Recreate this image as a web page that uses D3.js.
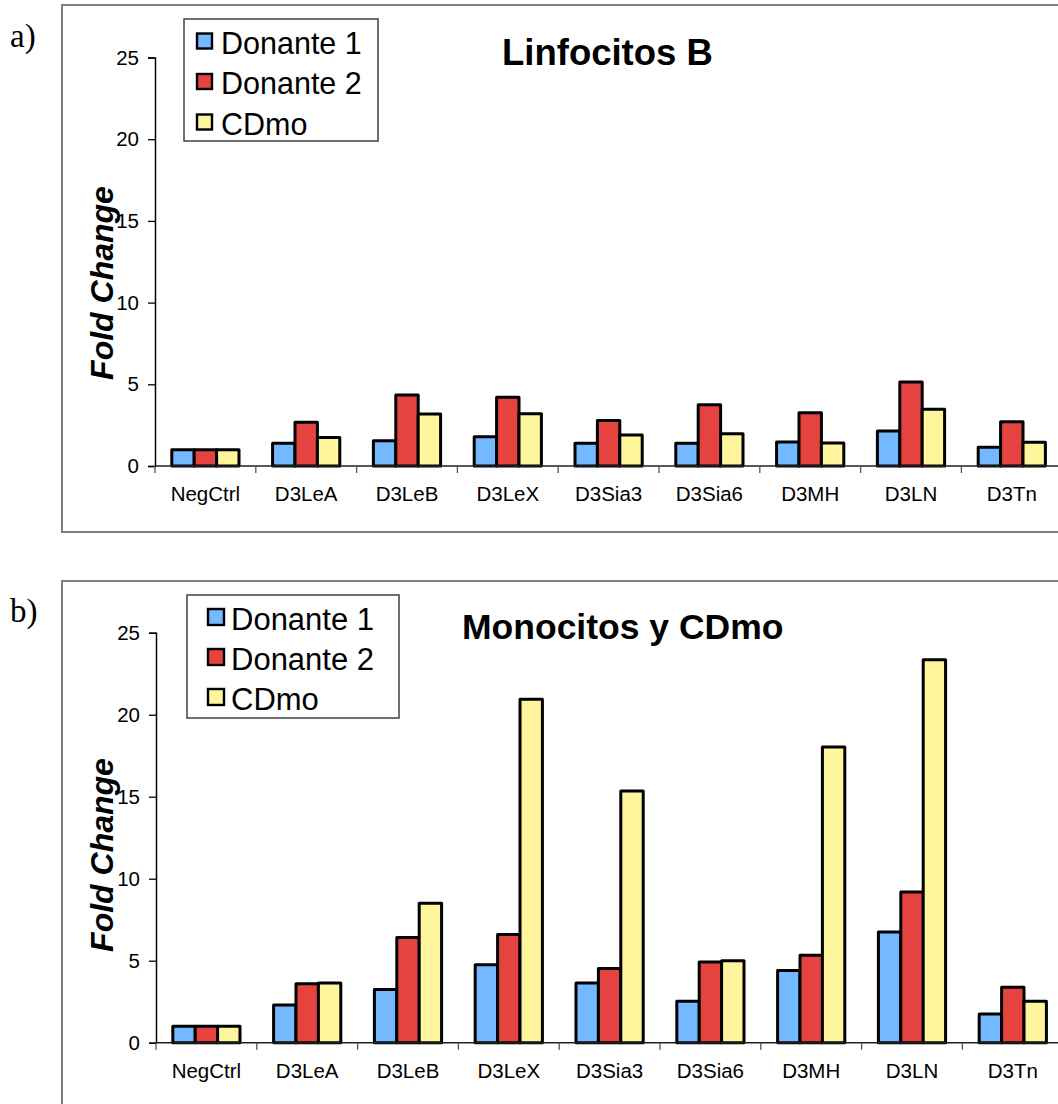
<!DOCTYPE html>
<html><head><meta charset="utf-8">
<script src="https://cdn.jsdelivr.net/npm/d3@7"></script>
<style>
html,body{margin:0;padding:0;background:#fff;overflow:hidden;}
svg{display:block;}
</style></head>
<body>
<svg id="chart" width="1058" height="1104"></svg>
<script>
// ---- data ----
const categories = ["NegCtrl","D3LeA","D3LeB","D3LeX","D3Sia3","D3Sia6","D3MH","D3LN","D3Tn"];
const seriesNames = ["Donante 1","Donante 2","CDmo"];
const seriesColors = ["#74B8FF","#E5433F","#FFF59D"];
const yTicks = [0,5,10,15,20,25];

// Panel a) Linfocitos B
const linfB_donante1 = [1.0, 1.39, 1.55, 1.79, 1.39, 1.39, 1.47, 2.14, 1.14];
const linfB_donante2 = [1.0, 2.67, 4.34, 4.20, 2.79, 3.75, 3.26, 5.14, 2.71];
const linfB_cdmo     = [1.0, 1.75, 3.18, 3.20, 1.90, 1.98, 1.41, 3.47, 1.45];

// Panel b) Monocitos y CDmo
const mono_donante1 = [1.0, 2.30, 3.25, 4.76, 3.64, 2.52, 4.41, 6.75, 1.75];
const mono_donante2 = [1.0, 3.60, 6.42, 6.60, 4.53, 4.92, 5.33, 9.19, 3.38];
const mono_cdmo     = [1.0, 3.64, 8.50, 20.94, 15.35, 5.00, 18.03, 23.35, 2.52];

const svg = d3.select("#chart");
const FONT = "'Liberation Sans', Arial, sans-serif";

function panel(cfg) {
  const g = svg.append("g");
  // outer frame
  g.append("rect").attr("x", cfg.frame[0]).attr("y", cfg.frame[1])
    .attr("width", cfg.frame[2]).attr("height", cfg.frame[3])
    .attr("fill", "#fff").attr("stroke", "#7f7f7f").attr("stroke-width", 2);

  // panel letter
  g.append("text").attr("x", 10).attr("y", cfg.letterY)
    .attr("font-family", "'Liberation Serif','DejaVu Serif',serif").attr("font-size", 33)
    .text(cfg.letter);

  const step = 100.8;
  const x0 = d3.scaleBand().domain(categories)
    .range([cfg.left, cfg.left + step * categories.length]).padding(0);
  const x1 = d3.scaleBand().domain(seriesNames)
    .range([0, x0.bandwidth()]).paddingInner(0).paddingOuter(0.75);
  const y = d3.scaleLinear().domain([0, 25]).range([cfg.y0, cfg.y25]);

  const data = [cfg.s1, cfg.s2, cfg.s3];

  // bars
  categories.forEach((c, i) => {
    seriesNames.forEach((s, j) => {
      const v = data[j][i];
      g.append("rect")
        .attr("x", x0(c) + x1(s))
        .attr("y", y(v))
        .attr("width", x1.bandwidth())
        .attr("height", y(0) - y(v))
        .attr("fill", seriesColors[j])
        .attr("stroke", "#000").attr("stroke-width", 3)
        .attr("stroke-linejoin", "round");
    });
  });

  // y axis
  const yAxis = d3.axisLeft(y).tickValues(yTicks).tickSize(7).tickPadding(9);
  const ya = g.append("g").attr("transform", `translate(${cfg.left},0)`).call(yAxis);
  ya.select(".domain").attr("stroke", "#000").attr("stroke-width", 1.5);
  ya.selectAll(".tick line").attr("stroke", "#000").attr("stroke-width", 1.3);
  ya.selectAll(".tick text").attr("font-family", FONT).attr("font-size", 20.5).attr("fill", "#000");

  // x axis (boundaries ticks)
  const xa = g.append("g").attr("transform", `translate(0,${cfg.y0})`);
  xa.append("line").attr("x1", cfg.left).attr("x2", 1100)
    .attr("stroke", "#202020").attr("stroke-width", 1.6);
  const bounds = categories.map(c => x0(c)).concat([x0.range()[1]]);
  xa.selectAll("line.bt").data(bounds).enter().append("line").attr("class", "bt")
    .attr("x1", d => d).attr("x2", d => d).attr("y1", 0).attr("y2", 7)
    .attr("stroke", "#555").attr("stroke-width", 1.3);
  xa.selectAll("text.cl").data(categories).enter().append("text").attr("class", "cl")
    .attr("x", d => x0(d) + x0.bandwidth() / 2).attr("y", 35)
    .attr("text-anchor", "middle").attr("font-family", FONT).attr("font-size", 20.5)
    .attr("fill", "#000").text(d => d);

  // y label
  g.append("text")
    .attr("transform", `translate(${cfg.labX},${cfg.labY}) rotate(-90)`)
    .attr("text-anchor", "middle").attr("font-family", FONT)
    .attr("font-size", 32).attr("font-weight", "bold").attr("font-style", "italic")
    .text("Fold Change");

  // title
  g.append("text").attr("x", cfg.titleX).attr("y", cfg.titleY)
    .attr("font-family", FONT).attr("font-size", cfg.titleSize).attr("font-weight", "bold")
    .text(cfg.title);

  // legend
  const L = cfg.legend;
  const lg = g.append("g");
  lg.append("rect").attr("x", L.x).attr("y", L.y).attr("width", L.w).attr("height", L.h)
    .attr("fill", "#fff").attr("stroke", "#404040").attr("stroke-width", 1.5);
  seriesNames.forEach((s, j) => {
    const by = L.base0 + j * L.gap;
    lg.append("rect").attr("x", L.sx).attr("y", by - L.sw - 5).attr("width", L.sw).attr("height", L.sw)
      .attr("fill", seriesColors[j]).attr("stroke", "#000").attr("stroke-width", 2.4);
    lg.append("text").attr("x", L.tx).attr("y", by)
      .attr("font-family", FONT).attr("font-size", L.fs).attr("fill", "#000").text(s);
  });
}

panel({
  frame: [62, 5, 1100, 527], letter: "a)", letterY: 47,
  left: 155, y0: 466, y25: 57.5,
  s1: linfB_donante1, s2: linfB_donante2, s3: linfB_cdmo,
  labX: 113, labY: 283,
  title: "Linfocitos B", titleX: 502, titleY: 65, titleSize: 36.5,
  legend: {x: 184, y: 19, w: 194, h: 122, sx: 197, sw: 15, tx: 221, base0: 53.5, gap: 40.5, fs: 30.5}
});

panel({
  frame: [62, 581, 1100, 600], letter: "b)", letterY: 622,
  left: 156, y0: 1042.7, y25: 632.7,
  s1: mono_donante1, s2: mono_donante2, s3: mono_cdmo,
  labX: 113, labY: 855,
  title: "Monocitos y CDmo", titleX: 462, titleY: 639, titleSize: 35.5,
  legend: {x: 187, y: 595, w: 212, h: 123, sx: 208, sw: 16, tx: 231, base0: 630, gap: 40, fs: 31}
});
</script>
</body></html>
